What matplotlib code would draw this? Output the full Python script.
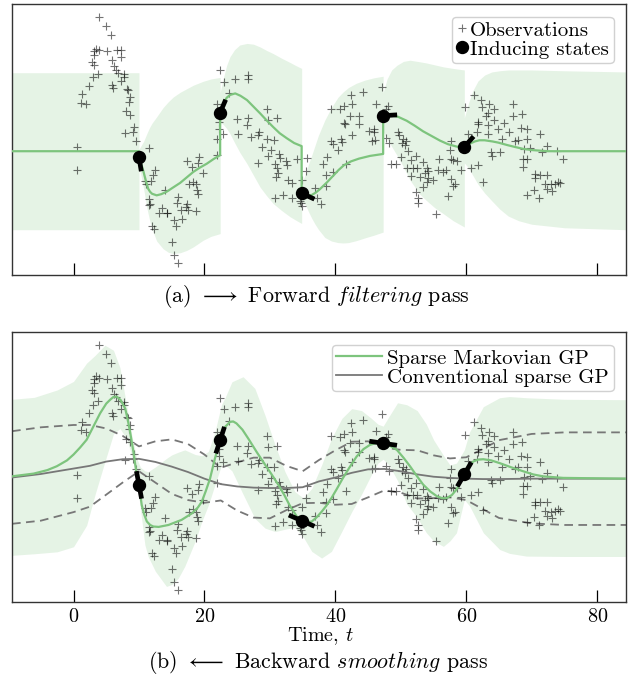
import numpy as np
import matplotlib
matplotlib.use('Agg')
import matplotlib.pyplot as plt
from matplotlib.lines import Line2D

plt.rcParams['font.family'] = 'cmr10'
plt.rcParams['mathtext.fontset'] = 'cm'
plt.rcParams['axes.unicode_minus'] = False
plt.rcParams['axes.formatter.use_mathtext'] = True

# observations (same data in both panels)
obs_t = [3.91, 5.03, 5.79, 3.45, 3.96, 3.20, 5.13, 6.61, 7.27, 3.20, 7.22, 5.84, 2.79, 3.20, 6.25,
         6.45, 6.76, 7.67, 3.81, 2.94, 7.78, 7.22, 5.84, 5.99, 8.13, 8.39, 2.43, 1.31, 8.59, 8.44,
         1.11, 1.87, 7.98, 8.69, 9.20, 9.05, 7.83, 9.56, 0.60, 11.59, 0.60, 12.46, 12.20, 10.93, 11.85,
         11.08, 13.99, 11.54, 11.64, 11.54, 13.58, 13.12, 14.24, 12.05, 12.36,
         22.43, 22.94, 24.62, 26.61, 26.66, 21.98, 23.81, 24.93, 26.71, 26.56, 22.28, 22.23, 22.89,
         21.93, 25.08, 28.29, 27.12, 28.14, 29.51, 29.76, 29.56, 28.79, 28.23, 29.71, 21.87, 19.23,
         17.40, 19.07, 18.06, 19.84, 18.31, 17.59, 18.72, 18.93, 18.97, 15.97, 17.40, 15.87, 17.14,
         16.43, 17.45, 18.77, 14.34, 15.31, 16.63, 15.66, 15.10, 15.41, 15.92,
         31.08, 30.68, 30.17, 31.44, 31.59, 30.78, 31.08, 32.51, 32.56, 34.09, 35.72, 35.52, 31.19,
         30.88, 32.81, 33.43, 34.90, 30.78, 31.95, 33.43, 34.75, 34.95, 34.65, 36.88, 37.24, 37.75,
         38.06, 38.67, 38.62, 39.63, 38.62, 39.33, 39.69, 40.45, 40.85, 41.01, 39.33, 40.65, 41.31,
         42.59, 42.38, 44.16, 41.26, 41.46, 42.28, 43.65, 43.65, 42.59, 41.57, 45.18,
         47.06, 46.20, 47.98, 47.68, 45.85, 45.85, 45.64, 46.05, 47.78, 48.19, 49.51, 49.66, 50.38,
         50.22, 50.78, 50.63, 51.15, 50.02, 48.49, 49.20, 52.35, 51.59, 50.88, 51.79, 52.51, 53.43,
         53.93, 54.19, 53.68, 51.54, 52.91, 54.19, 53.93, 54.95, 53.32, 55.82, 55.72, 56.38, 56.84,
         57.65, 58.00, 58.56, 59.12, 57.55, 57.65, 57.60, 58.00, 58.26, 57.14, 52.30, 52.56, 52.66,
         55.31, 59.79,
         61.11, 62.18, 63.45, 64.21, 62.43, 63.30, 62.99, 61.82, 61.82, 64.21, 65.69, 67.21, 67.21,
         68.48, 63.35, 64.82, 66.55, 68.43, 69.35, 71.28, 63.30, 61.62, 60.29, 65.39, 67.42, 67.93,
         69.35, 68.84, 69.81, 71.64, 72.26, 73.93, 74.75, 63.71, 63.91, 65.08, 68.69, 69.35, 68.69,
         60.75, 61.77, 62.54, 70.47, 71.24, 72.26, 70.47, 72.00, 72.91, 74.03, 74.34, 72.26, 73.12,
         69.35, 70.32, 71.08, 73.53]
obs_y = [3.44, 3.21, 2.97, 2.63, 2.59, 2.56, 2.56, 2.60, 2.60, 2.47, 2.40, 2.34, 2.29, 2.20, 2.18,
         2.09, 2.00, 1.98, 1.99, 1.90, 1.89, 1.79, 1.70, 1.62, 1.59, 1.56, 1.68, 1.46, 1.38, 1.27,
         1.24, 1.21, 1.03, 0.93, 0.63, 0.50, 0.47, 0.25, 0.10, 0.07, -0.49, -0.48, -0.62, -0.76, -0.76,
         -0.85, -1.00, -1.23, -1.34, -1.38, -1.46, -1.57, -1.58, -1.91, -1.98,
         2.08, 1.78, 1.85, 1.95, 1.85, 1.21, 1.48, 0.83, 0.85, 0.67, 0.76, 0.57, 0.43,
         0.32, 0.45, 0.48, 0.37, 0.41, 1.09, 0.81, 0.31, 0.11, -0.30, -0.13, -0.10, -0.14,
         -0.24, -0.29, -0.40, -0.55, -0.79, -0.85, -0.85, -0.99, -1.10, -1.17, -1.34, -1.33, -1.42,
         -1.51, -1.50, -1.52, -1.59, -1.77, -1.74, -1.91, -2.32, -2.66, -2.85,
         0.85, 0.29, 0.03, -0.08, -0.18, -0.32, -0.42, -0.26, -0.35, -0.21, -0.18, -0.50, -0.57,
         -0.66, -0.74, -0.81, -0.74, -1.21, -1.12, -1.20, -1.33, -1.41, -1.27, -0.95, -1.19, -1.36,
         -0.33, -0.14, -0.61, -0.52, -0.89, 0.25, 0.18, 0.03, 0.31, 0.23, 1.09, 1.08, 1.15,
         1.21, 1.44, 1.51, 0.73, 0.69, 0.91, 0.91, 0.69, 0.42, -0.32, 0.52,
         1.65, 1.22, 1.15, 1.08, 0.56, 0.50, 0.25, 0.28, 0.33, 0.20, 0.50, 0.41, 0.31,
         0.20, 0.26, 0.15, 0.01, -0.15, -0.32, -0.32, -0.12, -0.23, -0.42, -0.42, -0.42, -0.27,
         -0.44, -0.50, -0.56, -0.63, -0.65, -0.69, -0.78, -0.74, -0.91, -0.21, -0.49, -0.52, -0.47,
         -0.21, -0.23, -0.25, -0.48, 0.03, 0.26, -0.72, -0.89, -0.85, -1.15, -1.04, -1.19, -1.32,
         -1.60, 1.12,
         1.45, 1.31, 1.21, 1.09, 1.12, 0.98, 0.90, 0.76, 0.69, 0.81, 0.73, 1.21, 0.90,
         0.95, 0.67, 0.57, 0.50, 0.59, 0.56, 0.43, 0.44, 0.50, 0.45, 0.31, 0.25, 0.29,
         0.31, 0.05, 0.07, -0.01, 0.14, 0.01, -0.21, -0.03, -0.12, -0.03, -0.19, -0.19, -0.40,
         -0.42, -0.35, -0.80, -0.59, -0.61, -0.61, -0.68, -0.83, -0.85, -0.79, -0.82, -0.96, -1.02,
         -1.12, -0.99, -1.20, -0.83]

# inducing states
z_t = [10.0, 22.4, 34.85, 47.3, 59.7]
z_y = [-0.16, 0.99, -1.08, 0.91, 0.11]
z_slope_filt = [-1.0, 0.39, -0.075, 0.01, 0.19]
z_slope_smooth = [-0.9, 0.52, -0.074, -0.025, 0.29]

# (a) forward filtering: mean and band (a repeated t is a jump at an inducing state)
filt_t = [-9.4, 10.0,
          10.0, 10.35, 10.7, 11.05, 11.4, 11.7, 12.0, 12.7, 13.4, 14.2, 15.2, 16.3, 17.3, 18.3,
          19.3, 20.35, 21.4, 22.4,
          22.4, 22.9, 23.4, 23.9, 24.7, 25.5, 26.5, 27.5, 28.5, 29.5, 30.5, 31.5, 32.6, 33.7, 34.85,
          34.85, 35.6, 36.4, 37.0, 37.65, 38.7, 39.6, 40.5, 41.3, 42.4, 43.6, 45.3, 47.3,
          47.3, 48.5, 49.6, 50.9, 52.15, 53.4, 54.7, 56.0, 57.2, 58.5, 59.7, 60.5, 61.3, 62.0,
          62.8, 64.0, 64.9, 66.2, 67.4, 68.7, 70.0, 72.5, 84.4]
filt_mean = [0.0, 0.0,
             -0.16, -0.33, -0.53, -0.76, -0.96, -1.04, -1.09, -1.13, -1.10, -1.04, -0.93, -0.81,
             -0.67, -0.53, -0.42, -0.32, -0.20, -0.10,
             0.99, 1.22, 1.37, 1.44, 1.48, 1.42, 1.31, 1.14, 0.97, 0.79, 0.62, 0.46, 0.33, 0.21, 0.13,
             -1.08, -1.13, -1.12, -1.06, -0.97, -0.80, -0.64, -0.48, -0.36, -0.26, -0.19, -0.12, -0.07,
             0.91, 0.92, 0.88, 0.78, 0.65, 0.51, 0.39, 0.27, 0.18, 0.12, 0.09, 0.19, 0.25, 0.28,
             0.28, 0.25, 0.22, 0.16, 0.11, 0.06, 0.03, 0.0, 0.0]
fband_t = [-9.4, 10.0,
           10.0, 10.35, 10.7, 11.2, 11.6, 12.0, 12.7, 13.7, 14.5, 15.25, 16.3, 17.3, 18.3, 19.8,
           21.0, 22.4,
           22.4, 22.9, 23.4, 23.9, 24.6, 25.4, 26.5, 27.5, 28.5, 29.5, 30.5, 31.8, 33.1, 34.0, 34.85,
           34.85, 35.4, 35.9, 36.4, 36.9, 37.4, 38.4, 39.4, 40.4, 41.2, 42.0, 43.2, 44.5, 45.9, 47.3,
           47.3, 47.9, 48.6, 49.4, 50.4, 51.4, 52.9, 53.9, 55.2, 56.5, 58.0, 59.7,
           59.7, 60.3, 61.0, 61.8, 62.8, 63.9, 65.1, 66.4, 68.0, 70.0, 75.0, 84.4]
fband_hi = [2.01, 2.01,
            0.05, 0.15, 0.25, 0.45, 0.60, 0.72, 0.88, 1.12, 1.27, 1.39, 1.51, 1.60, 1.69, 1.79,
            1.85, 1.89,
            1.50, 1.88, 2.20, 2.42, 2.60, 2.72, 2.76, 2.74, 2.67, 2.58, 2.50, 2.38, 2.27, 2.19, 2.12,
            -0.80, -0.60, -0.33, -0.10, 0.15, 0.40, 0.80, 1.12, 1.38, 1.52, 1.63, 1.74, 1.82, 1.88, 1.92,
            1.50, 1.85, 2.08, 2.20, 2.30, 2.33, 2.29, 2.26, 2.21, 2.16, 2.12, 2.08,
            0.85, 1.21, 1.55, 1.80, 1.95, 2.03, 2.06, 2.08, 2.08, 2.08, 2.06, 2.03]
fband_lo = [-2.01, -2.01,
            -0.40, -0.65, -0.95, -1.45, -1.75, -2.00, -2.30, -2.50, -2.59, -2.62, -2.60, -2.54,
            -2.45, -2.28, -2.18, -2.11,
            0.75, 0.68, 0.58, 0.45, 0.22, -0.03, -0.32, -0.62, -0.92, -1.14, -1.34, -1.52, -1.68,
            -1.77, -1.85,
            -1.30, -1.36, -1.55, -1.72, -1.87, -2.00, -2.21, -2.30, -2.34, -2.35, -2.34, -2.29,
            -2.22, -2.15, -2.07,
            0.50, 0.32, 0.12, -0.10, -0.40, -0.74, -1.10, -1.26, -1.45, -1.60, -1.78, -1.94,
            -0.30, -0.42, -0.62, -0.85, -1.07, -1.27, -1.48, -1.66, -1.78, -1.87, -1.96, -2.01]

# (b) backward smoothing
smooth_t = [-9.4, -6.1, -4.0, -2.55, -1.0, 0.0, 1.0, 2.0, 3.0, 4.06,
            5.0, 5.6, 6.1, 6.6, 7.2, 7.9, 8.3, 8.64, 9.15, 9.66,
            10.0, 10.42, 10.8, 11.2, 11.7, 12.2, 13.0, 14.5, 16.5, 18.1,
            19.0, 19.6, 20.2, 20.85, 21.6, 22.4, 23.1, 23.9, 24.4, 24.9,
            25.8, 26.7, 28.0, 29.3, 30.3, 31.3, 32.2, 33.0, 34.1, 34.85,
            35.6, 36.4, 37.1, 37.9, 38.6, 39.4, 40.2, 41.1, 42.2, 43.25,
            44.3, 45.3, 46.3, 47.3, 48.3, 49.4, 50.4, 51.4, 52.4, 53.4,
            54.5, 55.5, 56.3, 57.0, 57.8, 58.5, 59.1, 59.7, 60.4, 61.05,
            61.8, 62.6, 63.8, 65.1, 66.9, 68.7, 70.2, 71.7, 74.8, 84.4]
smooth_mean = [0.06, 0.13, 0.22, 0.32, 0.47, 0.62, 0.80, 1.0, 1.33, 1.68,
               1.93, 2.03, 2.10, 2.11, 2.02, 1.80, 1.50, 1.20, 0.69, 0.09,
               -0.16, -0.68, -0.92, -1.10, -1.19, -1.23, -1.24, -1.19, -1.06, -0.89,
               -0.74, -0.59, -0.32, 0.0, 0.52, 0.99, 1.32, 1.46, 1.47, 1.42,
               1.26, 1.03, 0.68, 0.35, 0.10, -0.16, -0.42, -0.68, -0.97, -1.08,
               -1.12, -1.10, -1.00, -0.85, -0.70, -0.50, -0.27, 0.0, 0.30, 0.57,
               0.76, 0.87, 0.92, 0.91, 0.85, 0.74, 0.54, 0.32, 0.08, -0.15,
               -0.33, -0.45, -0.50, -0.50, -0.42, -0.28, -0.10, 0.11, 0.32, 0.44,
               0.49, 0.50, 0.47, 0.40, 0.29, 0.19, 0.11, 0.06, 0.02, 0.0]
sband_t = [-9.4, -6.0, -2.5, 0.0, 2.0, 3.3, 4.8, 6.1, 7.1, 8.1, 8.9, 9.66, 10.2, 10.9, 11.4, 12.5,
           14.2, 15.0, 16.0, 17.0, 18.6, 19.6, 20.6, 21.6, 22.6, 23.2, 24.2, 25.9, 27.7, 29.25,
           30.8, 32.3, 33.8, 35.1, 36.4, 37.9, 39.4, 41.0, 42.5, 44.0, 45.5, 46.5, 47.3, 48.2,
           49.5, 50.9, 52.5, 53.9, 55.0, 56.5, 57.5, 58.5, 59.7, 60.5, 62.6, 65.1, 66.6, 69.2,
           75.0, 84.4]
sband_hi = [2.04, 2.09, 2.28, 2.50, 2.97, 3.17, 3.43, 3.30, 2.85, 1.89, 1.12, 0.52, 0.30, 0.20,
            0.18, 0.30, 0.52, 0.61, 0.68, 0.74, 0.62, 0.59, 0.70, 1.20, 1.90, 2.10, 2.49, 2.62,
            2.32, 1.63, 0.86, 0.18, -0.33, -0.50, -0.25, 0.35, 1.03, 1.55, 1.80, 1.75, 1.55, 1.40,
            1.35, 1.60, 1.95, 1.90, 1.75, 1.40, 1.00, 0.60, 0.35, 0.40, 0.74, 1.20, 1.85, 2.08,
            2.11, 2.08, 2.04, 2.03]
sband_lo = [-1.97, -1.93, -1.88, -1.75, -1.20, -0.40, 0.44, 1.15, 1.29, 1.03, 0.60, -0.05, -0.75,
            -1.70, -2.00, -2.38, -2.77, -2.72, -2.56, -2.25, -1.60, -1.10, -0.68, -0.16, 0.35,
            0.35, 0.20, -0.40, -1.02, -1.27, -1.36, -1.30, -1.25, -1.50, -1.87, -2.04, -1.87,
            -1.35, -0.85, -0.40, 0.10, 0.40, 0.50, 0.35, -0.05, -0.65, -1.00, -1.39, -1.60, -1.74,
            -1.60, -1.39, -0.54, -0.70, -1.39, -1.82, -1.92, -1.99, -2.00, -2.00]

# conventional sparse GP: mean and 2 sd half width
conv_t = [-9.4, -5.0, 0.0, 2.5, 5.0, 7.5, 10.0, 12.5, 15.0, 17.5, 20.0, 22.5, 25.0, 27.5, 30.0,
          32.5, 35.0, 37.5, 40.0, 42.5, 45.0, 47.5, 50.0, 52.5, 55.0, 57.5, 60.0, 62.5, 65.0,
          70.0, 75.0, 84.4]
conv_mean = [0.03, 0.12, 0.26, 0.33, 0.44, 0.50, 0.51, 0.43, 0.31, 0.17, 0.00, -0.14, -0.20, -0.23,
             -0.24, -0.24, -0.22, -0.07, 0.03, 0.15, 0.24, 0.25, 0.19, 0.11, 0.05, 0.02, 0.00,
             -0.01, -0.01, 0.0, 0.0, 0.0]
conv_2sd = [1.19, 1.20, 1.12, 1.05, 0.85, 0.60, 0.32, 0.53, 0.70, 0.72, 0.62, 0.42, 0.62, 0.77,
            0.78, 0.57, 0.41, 0.55, 0.70, 0.80, 0.72, 0.55, 0.55, 0.62, 0.55, 0.50, 0.55, 0.77,
            1.00, 1.15, 1.19, 1.19]

GREEN = '#7dc47d'
GREY = '#777777'
FS = 15
SEG_PX = 14


def state_segments(ax, slopes, both_sides):
    # short black bars showing the derivative held in each inducing state
    for t, y, s in zip(z_t, z_y, slopes):
        p0 = ax.transData.transform((t, y))
        p1 = ax.transData.transform((t + 1.0, y + s))
        d = (p1 - p0) / np.hypot(*(p1 - p0))
        start = p0 - SEG_PX * d if both_sides else p0
        end = p0 + SEG_PX * d
        a, b = ax.transData.inverted().transform([start, end])
        ax.plot([a[0], b[0]], [a[1], b[1]], color='k', lw=3.4, solid_capstyle='butt', zorder=6)
    ax.plot(z_t, z_y, 'o', color='k', ms=8.6, zorder=7)


def style_axes(ax, labels):
    ax.set_xlim(-9.4, 84.4)
    ax.set_ylim(-3.17, 3.77)
    ax.set_yticks([])
    ax.set_xticks([0, 20, 40, 60, 80])
    ax.tick_params(axis='x', direction='in', length=8.5, width=0.9, labelsize=FS - 0.5,
                   labelbottom=labels, pad=4)
    for sp in ax.spines.values():
        sp.set_color('#333333')
        sp.set_linewidth(1.0)


fig = plt.figure(figsize=(6.29, 6.79), dpi=100)
ax1 = fig.add_axes([12 / 629, 1 - 275 / 679, 614 / 629, 271 / 679])
ax2 = fig.add_axes([12 / 629, 1 - 602 / 679, 614 / 629, 270 / 679])
style_axes(ax1, False)
style_axes(ax2, True)

# top panel
ax1.fill_between(fband_t, fband_lo, fband_hi, color=GREEN, alpha=0.2, lw=0, zorder=1)
ax1.plot(obs_t, obs_y, '+', color='k', alpha=0.55, ms=5.5, mew=0.8, zorder=3)
ax1.plot(filt_t, filt_mean, color=GREEN, lw=1.6, zorder=4)
state_segments(ax1, z_slope_filt, False)

h_obs = Line2D([], [], ls='none', marker='+', color='k', alpha=0.55, ms=5.5, mew=0.8)
h_ind = Line2D([], [], ls='none', marker='o', color='k', ms=8.6)
ax1.legend([h_obs, h_ind], ['Observations', 'Inducing states'], loc='upper right',
           fontsize=FS, handlelength=0.5, handletextpad=0.15, labelspacing=0.02,
           borderpad=0.22, borderaxespad=0.6, framealpha=1.0, edgecolor='0.82')

# bottom panel
ax2.fill_between(sband_t, sband_lo, sband_hi, color=GREEN, alpha=0.2, lw=0, zorder=1)
ax2.plot(obs_t, obs_y, '+', color='k', alpha=0.55, ms=5.5, mew=0.8, zorder=3)
conv_m = np.array(conv_mean)
conv_w = np.array(conv_2sd)
ax2.plot(conv_t, conv_m + conv_w, color=GREY, lw=1.3, dashes=(4.8, 3), zorder=2)
ax2.plot(conv_t, conv_m - conv_w, color=GREY, lw=1.3, dashes=(4.8, 3), zorder=2)
ax2.plot(conv_t, conv_m, color=GREY, lw=1.3, zorder=4, label='Conventional sparse GP')
ax2.plot(smooth_t, smooth_mean, color=GREEN, lw=1.6, zorder=4, label='Sparse Markovian GP')
state_segments(ax2, z_slope_smooth, True)

hs, ls = ax2.get_legend_handles_labels()
ax2.legend(hs[::-1], ls[::-1], loc='upper right', fontsize=FS, handlelength=2.2,
           handletextpad=0.25, labelspacing=0.02, borderpad=0.22, borderaxespad=0.6,
           framealpha=1.0, edgecolor='0.82')

fig.text(0.503, 1 - 297 / 679, r'(a) $\longrightarrow$ Forward $\mathit{filtering}$ pass',
         ha='center', va='center', fontsize=FS + 0.8)
fig.text(0.509, 1 - 636 / 679, r'Time, $t$', ha='center', va='center', fontsize=FS - 0.5)
fig.text(0.506, 1 - 663 / 679, r'(b) $\longleftarrow$ Backward $\mathit{smoothing}$ pass',
         ha='center', va='center', fontsize=FS + 0.8)

fig.savefig('out.png', dpi=100)
